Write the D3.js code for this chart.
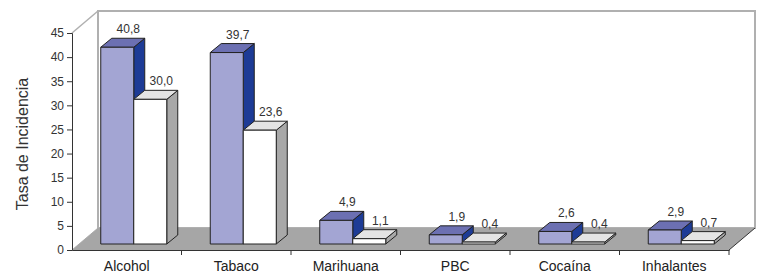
<!DOCTYPE html>
<html lang="es">
<head>
<meta charset="UTF-8">
<script src="https://d3js.org/d3.v7.min.js"></script>
<style>
  body { margin: 0; background: #fff; }
  svg { display: block; font-family: 'Liberation Sans', Arial, sans-serif; }
</style>
</head>
<body>
<svg id="chart" width="761" height="279"></svg>
<script>
// ---- data ----
const categories = ["Alcohol", "Tabaco", "Marihuana", "PBC", "Cocaína", "Inhalantes"];
const series = ["s1", "s2"];
const values1 = [40.8, 39.7, 4.9, 1.9, 2.6, 2.9];
const values2 = [30.0, 23.6, 1.1, 0.4, 0.4, 0.7];
const yTicks = [0, 5, 10, 15, 20, 25, 30, 35, 40, 45];
const valueLabels1 = ["40,8", "39,7", "4,9", "1,9", "2,6", "2,9"];
const valueLabels2 = ["30,0", "23,6", "1,1", "0,4", "0,4", "0,7"];

// ---- layout ----
const svg = d3.select("#chart");
const x = d3.scaleBand().domain(categories).range([72, 729]);
const y = d3.scaleLinear().domain([0, 45]).range([250, 33]);
const wall = { dx: 26, dy: -22 };          // full depth of the box
const front = { dx: 7, dy: -6 };           // bar front plane
const depth = { dx: 11, dy: -9 };          // bar thickness
const groupW = 66;
const font = "'Liberation Sans', Arial, sans-serif";

const colors = {
  s1: { front: "#a3a5d3", top: "#6c70b2", side: "#1d3b96" },
  s2: { front: "#ffffff", top: "#e4e4e4", side: "#a8a8a8" }
};

const pts = p => p.map(d => d.join(",")).join(" ");

// back wall
const wx0 = 72 + wall.dx, wx1 = 729 + wall.dx;
const wyTop = y(45) + wall.dy, wyBot = y(0) + wall.dy;
svg.append("polygon")
  .attr("points", pts([[wx0, wyBot], [wx0, wyTop], [wx1, wyTop], [wx1, wyBot]]))
  .attr("fill", "#fff").attr("stroke", "#b0b0b0").attr("stroke-width", 2);
// left wall edges
svg.append("line")
  .attr("x1", 72).attr("y1", y(45)).attr("x2", wx0).attr("y2", wyTop)
  .attr("stroke", "#b0b0b0").attr("stroke-width", 1.5);
svg.append("line")
  .attr("x1", 72).attr("y1", y(0)).attr("x2", wx0).attr("y2", wyBot)
  .attr("stroke", "#b0b0b0").attr("stroke-width", 1);

// floor
svg.append("polygon")
  .attr("points", pts([[72, y(0)], [wx0, wyBot], [wx1, wyBot], [729, y(0)]]))
  .attr("fill", "#a6a6a6");
svg.append("line")
  .attr("x1", 729).attr("y1", y(0)).attr("x2", wx1).attr("y2", wyBot)
  .attr("stroke", "#333").attr("stroke-width", 1);

// bars
const rows = categories.map((c, i) => ({ c, v: [values1[i], values2[i]], l: [valueLabels1[i], valueLabels2[i]] }));
const inner = d3.scaleBand().domain(series).range([0, groupW]);

rows.forEach(r => {
  const gx = x(r.c) + x.bandwidth() / 2 - groupW / 2 + front.dx;
  series.forEach((s, k) => {
    const x0 = gx + inner(s), x1 = x0 + inner.bandwidth();
    const yb = y(0) + front.dy, yt = y(r.v[k]) + front.dy;
    const g = svg.append("g").attr("stroke", "#222").attr("stroke-width", 1).attr("stroke-linejoin", "round");
    g.append("polygon").attr("fill", colors[s].side)
      .attr("points", pts([[x1, yb], [x1, yt], [x1 + depth.dx, yt + depth.dy], [x1 + depth.dx, yb + depth.dy]]));
    g.append("polygon").attr("fill", colors[s].top)
      .attr("points", pts([[x0, yt], [x1, yt], [x1 + depth.dx, yt + depth.dy], [x0 + depth.dx, yt + depth.dy]]));
    g.append("rect").attr("fill", colors[s].front)
      .attr("x", x0).attr("y", yt).attr("width", x1 - x0).attr("height", yb - yt);
    svg.append("text")
      .attr("x", (x0 + x1) / 2 + depth.dx)
      .attr("y", yt + depth.dy - 5)
      .attr("text-anchor", "middle")
      .attr("font-size", 12).attr("fill", "#333")
      .text(r.l[k]);
  });
});

// axes
const yAxis = svg.append("g").attr("transform", "translate(72,0)")
  .call(d3.axisLeft(y).tickValues(yTicks).tickSize(5).tickPadding(3));
yAxis.selectAll("text").attr("font-size", 12).attr("fill", "#333").attr("font-family", font);
yAxis.selectAll("line,path").attr("stroke", "#333");

const xAxis = svg.append("g").attr("transform", `translate(0,${y(0)})`)
  .call(d3.axisBottom(x).tickSize(0).tickPadding(11));
xAxis.selectAll("text").attr("font-size", 14).attr("fill", "#222").attr("font-family", font);
xAxis.selectAll("path").attr("stroke", "#333");
// boundary ticks between categories
xAxis.selectAll(".sep").data(categories).join("line")
  .attr("class", "sep")
  .attr("x1", (d, i) => x.range()[0] + x.step() * (i + 1))
  .attr("x2", (d, i) => x.range()[0] + x.step() * (i + 1))
  .attr("y1", 0).attr("y2", 5).attr("stroke", "#333");

svg.append("text")
  .attr("transform", "translate(28,144) rotate(-90)")
  .attr("text-anchor", "middle")
  .attr("font-size", 16).attr("fill", "#333")
  .text("Tasa de Incidencia");
</script>
</body>
</html>
